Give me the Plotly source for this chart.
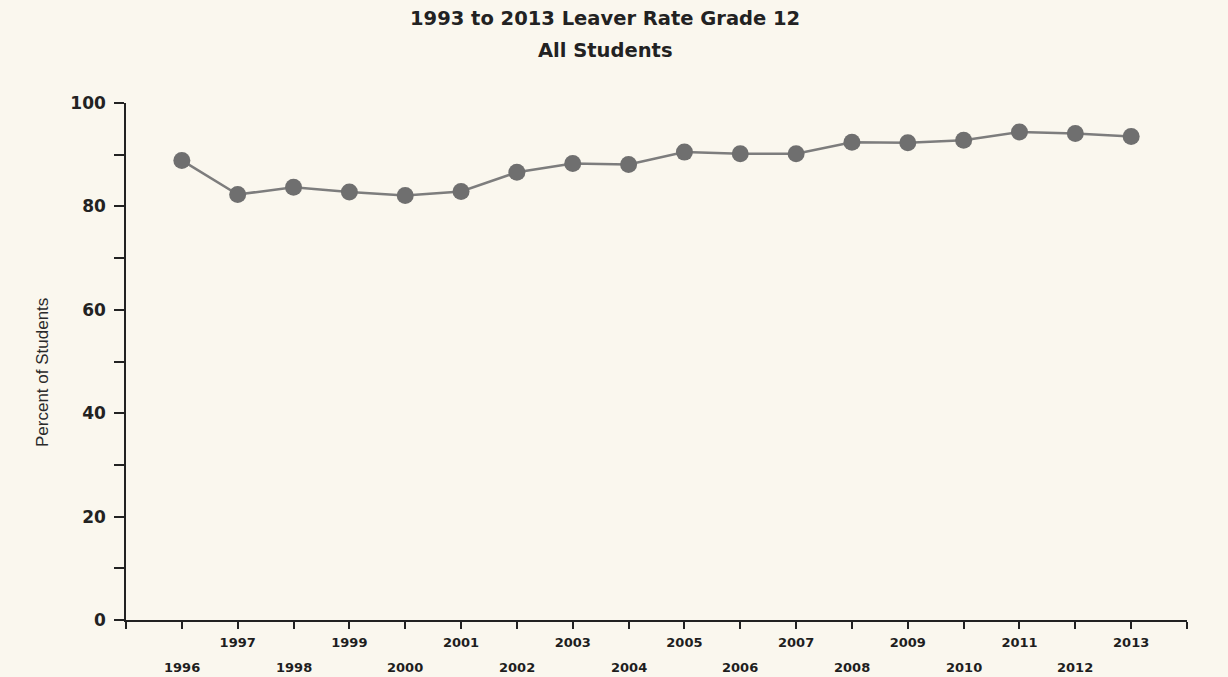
import plotly.graph_objects as go

years = [1996, 1997, 1998, 1999, 2000, 2001, 2002, 2003, 2004,
         2005, 2006, 2007, 2008, 2009, 2010, 2011, 2012, 2013]
leaver_rate = [88.9, 82.3, 83.7, 82.8, 82.1, 82.9, 86.6, 88.3, 88.1,
               90.5, 90.2, 90.2, 92.4, 92.3, 92.8, 94.4, 94.1, 93.5]
y_ticks = [0, 20, 40, 60, 80, 100]
y_minor = [10, 30, 50, 70, 90]
title_line1 = "1993 to 2013 Leaver Rate Grade 12"
title_line2 = "All Students"
y_title = "Percent of Students"

BG = "#FAF7EE"
FONT_BOLD = "DejaVu Sans"
x_min, x_max = years[0] - 1, years[-1] + 1
all_ticks = list(range(x_min, x_max + 1))
upper_text = [str(v) if (v in years and v % 2 == 1) else "" for v in all_ticks]

fig = go.Figure()
fig.add_trace(go.Scatter(
    x=years, y=leaver_rate, mode="lines+markers",
    line=dict(color="#7d7d7d", width=2.5),
    marker=dict(color="#6f6f6f", size=17, line=dict(width=0)),
    hoverinfo="x+y", showlegend=False,
))

annotations = [
    dict(text=f"<b>{title_line1}</b>", xref="paper", yref="paper",
         x=(605 - 126) / 1061, y=(620 - 19) / 517, xanchor="center", yanchor="middle",
         showarrow=False, font=dict(family=FONT_BOLD, size=19.5, color="#222222")),
    dict(text=f"<b>{title_line2}</b>", xref="paper", yref="paper",
         x=(605 - 126) / 1061, y=(620 - 50) / 517, xanchor="center", yanchor="middle",
         showarrow=False, font=dict(family=FONT_BOLD, size=19.5, color="#222222")),
    dict(text=y_title, xref="paper", yref="paper", textangle=-90,
         x=(42 - 126) / 1061, y=(620 - 373) / 517, xanchor="center", yanchor="middle",
         showarrow=False, font=dict(family="Liberation Sans", size=17, color="#2a2a2a")),
]
for yr in years:
    if yr % 2 == 0:
        annotations.append(dict(
            text=f"<b>{yr}</b>", x=yr, y=0, xref="x", yref="y",
            yshift=-47, xanchor="center", yanchor="middle", showarrow=False,
            font=dict(family=FONT_BOLD, size=13, color="#1e1e1e")))

# page body has an 8px margin; figure is laid out to match page pixels
fig.update_layout(
    width=1220, height=669,
    margin=dict(l=118, r=41, t=95, b=57),
    paper_bgcolor=BG, plot_bgcolor=BG,
    annotations=annotations,
    xaxis=dict(
        range=[x_min, x_max], tickmode="array", tickvals=all_ticks,
        ticktext=[f"<b>{t}</b>" if t else "" for t in upper_text],
        ticks="outside", ticklen=7, tickwidth=1.5, tickcolor="#222222",
        ticklabelstandoff=3,
        showline=True, linecolor="#222222", linewidth=1.5,
        showgrid=False, zeroline=False,
        tickfont=dict(family=FONT_BOLD, size=13, color="#1e1e1e"),
        fixedrange=True,
    ),
    yaxis=dict(
        range=[0, 100], tickmode="array", tickvals=y_ticks,
        ticktext=[f"<b>{v}</b>" for v in y_ticks],
        ticks="outside", ticklen=10, tickwidth=1.5, tickcolor="#222222",
        ticklabelstandoff=5,
        minor=dict(tickvals=y_minor, ticks="outside", ticklen=10, tickwidth=1.5,
                   tickcolor="#222222", showgrid=False),
        showline=True, linecolor="#222222", linewidth=1.5,
        showgrid=False, zeroline=False,
        tickfont=dict(family=FONT_BOLD, size=17, color="#222222"),
        fixedrange=True,
    ),
)

fig.write_html("out.html",
               post_script=f"document.body.style.backgroundColor='{BG}';")
